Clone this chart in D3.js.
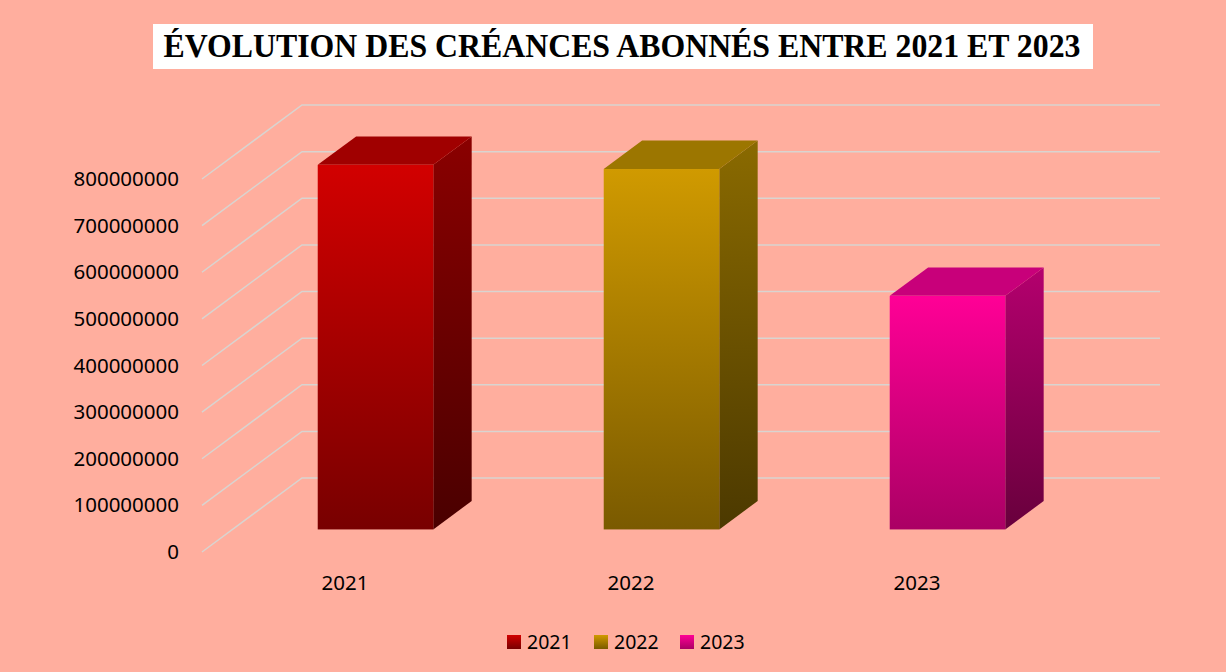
<!DOCTYPE html>
<html>
<head>
<meta charset="utf-8">
<script src="https://cdn.jsdelivr.net/npm/d3@7"></script>
<style>
  body { margin: 0; background: #ffae9e; }
  svg { display: block; }
</style>
</head>
<body>
<svg id="chart" width="1226" height="672"></svg>
<script>
// chart values
const title = "ÉVOLUTION DES CRÉANCES ABONNÉS ENTRE 2021 ET 2023";
const categories = ["2021", "2022", "2023"];
const values = [782000000, 773000000, 501000000];
const yTicks = [0, 100000000, 200000000, 300000000, 400000000, 500000000, 600000000, 700000000, 800000000];
// [front top, front bottom, side top, side bottom, top face]
const barColors = [
  ["#d20000", "#780000", "#8a0000", "#4a0000", "#a00000"],
  ["#d09a00", "#7a5a00", "#8a6a00", "#4c3900", "#9c7600"],
  ["#ff0096", "#aa0064", "#b4006e", "#68003c", "#c8007a"]
];

const svg = d3.select("#chart");
const W = 1226, H = 672;

svg.append("rect").attr("width", W).attr("height", H).attr("fill", "#ffae9e");

// 3d oblique offset for full depth of the floor
const DX = 100, DY = -74;
const d0 = 0.305, d1 = 0.689; // bar depth in the box

const x = d3.scaleBand().domain(categories).range([202, 1060]);
const y = d3.scaleLinear().domain([0, 800000000]).range([552, 179]);
const barW = x.bandwidth() * 0.404;

// title
svg.append("rect")
  .attr("x", 153).attr("y", 24)
  .attr("width", 940).attr("height", 45)
  .attr("fill", "white");
svg.append("text")
  .attr("x", 622).attr("y", 57)
  .attr("text-anchor", "middle")
  .attr("font-family", "'Liberation Serif', 'Times New Roman', serif")
  .attr("font-weight", "bold")
  .attr("font-size", 34)
  .attr("textLength", 917)
  .attr("lengthAdjust", "spacingAndGlyphs")
  .text(title);

// gridlines: left wall diagonal + back wall horizontal
svg.append("g")
  .selectAll("polyline")
  .data(yTicks)
  .join("polyline")
  .attr("points", (t) => {
    const yy = y(t);
    const [x0, x1] = x.range();
    return [[x0, yy], [x0 + DX, yy + DY], [x1 + DX, yy + DY]].join(" ");
  })
  .attr("fill", "none")
  .attr("stroke", "#d9d4d0")
  .attr("stroke-width", 1.5);

// gradients
const defs = svg.append("defs");
barColors.forEach((c, i) => {
  const gf = defs.append("linearGradient")
    .attr("id", "front" + i).attr("x1", 0).attr("y1", 0).attr("x2", 0).attr("y2", 1);
  gf.append("stop").attr("offset", 0).attr("stop-color", c[0]);
  gf.append("stop").attr("offset", 1).attr("stop-color", c[1]);
  const gs = defs.append("linearGradient")
    .attr("id", "side" + i).attr("x1", 0).attr("y1", 0).attr("x2", 0).attr("y2", 1);
  gs.append("stop").attr("offset", 0).attr("stop-color", c[2]);
  gs.append("stop").attr("offset", 1).attr("stop-color", c[3]);
});

// bars
const bars = svg.append("g")
  .selectAll("g")
  .data(categories.map((c, i) => ({ cat: c, value: values[i], i })))
  .join("g");

const geom = (d) => {
  const fx = x(d.cat) + x.bandwidth() / 2 + d0 * DX - barW / 2;
  const top = y(d.value) + d0 * DY;
  const bot = y(0) + d0 * DY;
  const ox = (d1 - d0) * DX, oy = (d1 - d0) * DY;
  return { fx, top, bot, ox, oy };
};

bars.append("polygon")
  .attr("points", (d) => {
    const g = geom(d);
    return [[g.fx + barW, g.top], [g.fx + barW + g.ox, g.top + g.oy],
      [g.fx + barW + g.ox, g.bot + g.oy], [g.fx + barW, g.bot]].join(" ");
  })
  .attr("fill", (d) => `url(#side${d.i})`);

bars.append("polygon")
  .attr("points", (d) => {
    const g = geom(d);
    return [[g.fx, g.top], [g.fx + g.ox, g.top + g.oy],
      [g.fx + barW + g.ox, g.top + g.oy], [g.fx + barW, g.top]].join(" ");
  })
  .attr("fill", (d) => barColors[d.i][4]);

bars.append("rect")
  .attr("x", (d) => geom(d).fx)
  .attr("y", (d) => geom(d).top)
  .attr("width", barW)
  .attr("height", (d) => geom(d).bot - geom(d).top)
  .attr("fill", (d) => `url(#front${d.i})`);

// axes
const labelFont = "'Noto Sans', 'Open Sans', sans-serif";

const yAxis = svg.append("g")
  .attr("transform", "translate(202,0)")
  .call(d3.axisLeft(y).tickValues(yTicks).tickFormat(d3.format("d")).tickSize(0).tickPadding(23));
yAxis.select(".domain").remove();
yAxis.selectAll("text")
  .attr("font-family", labelFont)
  .attr("font-size", 20.5)
  .attr("fill", "#000");

const xAxis = svg.append("g")
  .attr("transform", "translate(0,552)")
  .call(d3.axisBottom(x).tickSize(0).tickPadding(23));
xAxis.select(".domain").remove();
xAxis.selectAll("text")
  .attr("font-family", labelFont)
  .attr("font-size", 20.5)
  .attr("fill", "#000");

// legend
const legendX = [507, 594, 680];
const legend = svg.append("g")
  .selectAll("g")
  .data(categories)
  .join("g")
  .attr("transform", (d, i) => `translate(${legendX[i]},635)`);
legend.append("rect")
  .attr("width", 14).attr("height", 14)
  .attr("fill", (d, i) => `url(#front${i})`);
legend.append("text")
  .attr("x", 20).attr("y", 7)
  .attr("dy", "0.35em")
  .attr("font-family", labelFont)
  .attr("font-size", 19.5)
  .attr("fill", "#000")
  .text((d) => d);
</script>
</body>
</html>
